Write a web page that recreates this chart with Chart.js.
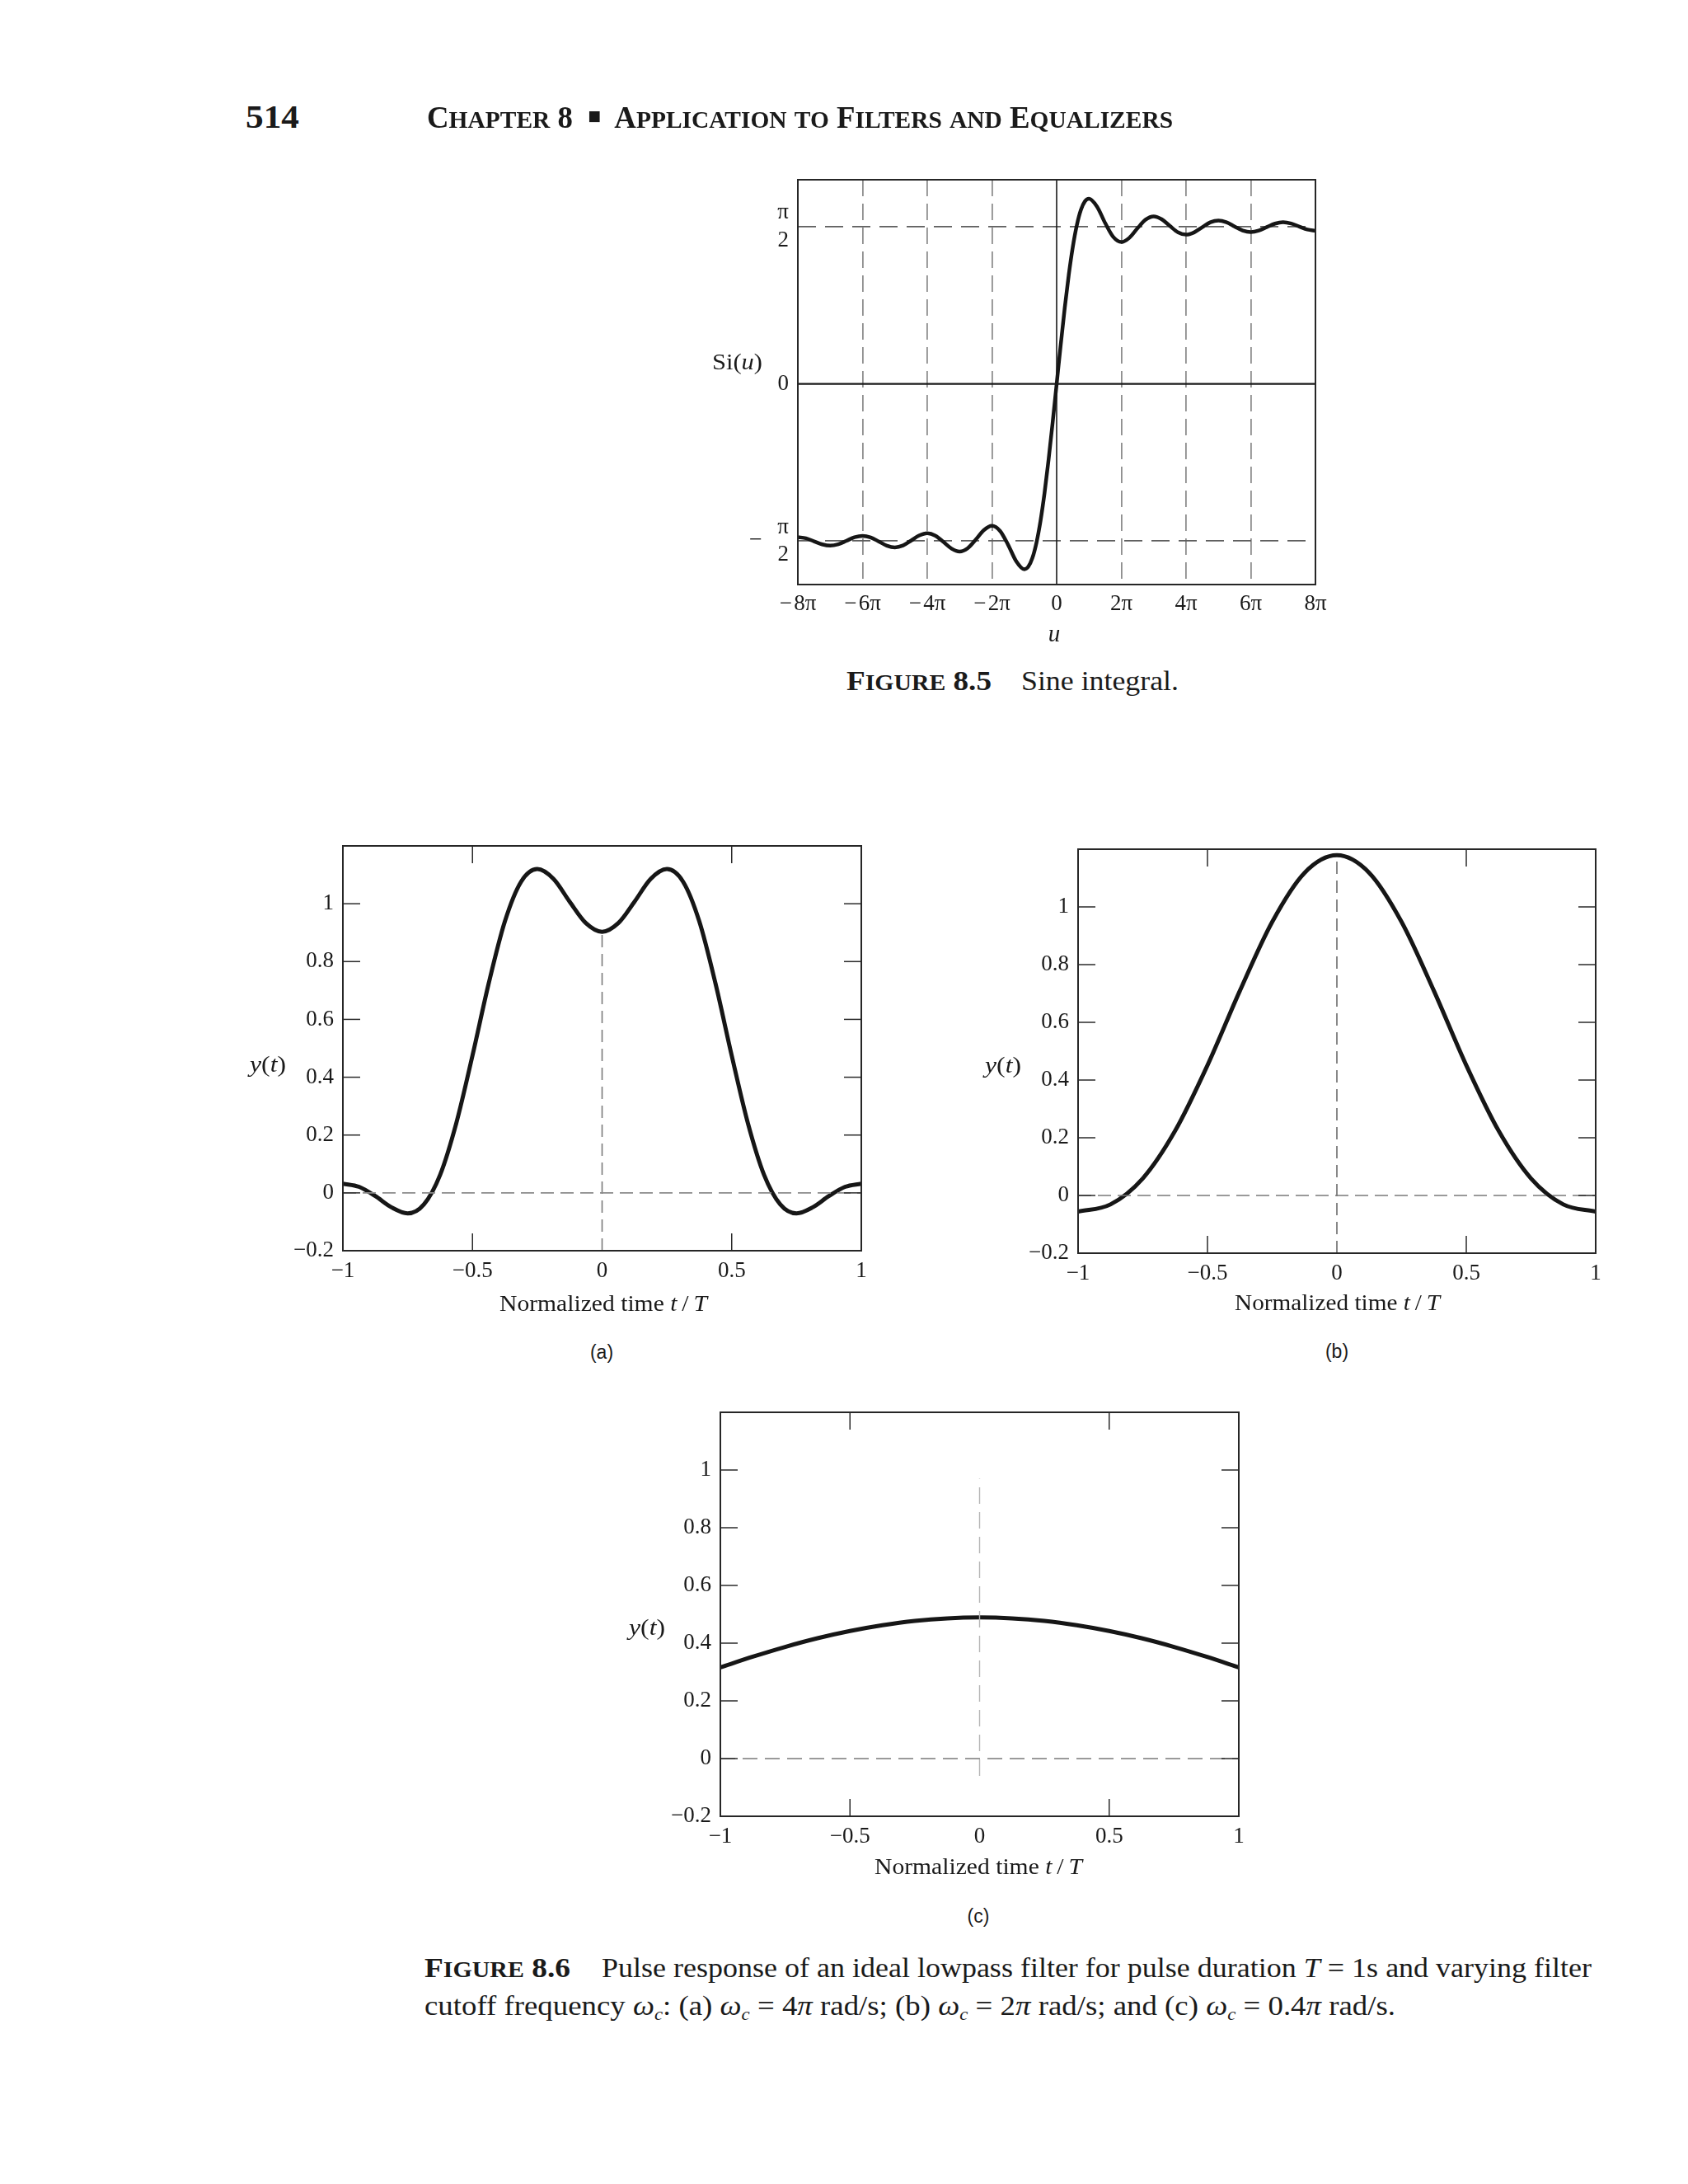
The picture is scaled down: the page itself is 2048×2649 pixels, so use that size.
<!DOCTYPE html>
<html><head><meta charset="utf-8"><title>Sine integral and pulse response of an ideal lowpass filter</title>
<script src="https://cdn.jsdelivr.net/npm/chart.js@4.4.1/dist/chart.umd.min.js"></script>
<style>
html,body{margin:0;padding:0;background:#fff}
body{position:relative;width:2048px;height:2649px;overflow:hidden;color:#1a1a1a;font-family:"Liberation Serif","Times New Roman",serif}
.tx{position:absolute;white-space:nowrap;line-height:1;transform-origin:0 50%}
.b{font-weight:bold}
.scl{font-size:0.8em}
.sans{font-family:"Liberation Sans",Arial,sans-serif}
.sq{font-family:"DejaVu Sans",sans-serif;font-size:0.45em;position:relative;top:-0.55em}
sub{font-size:0.62em;vertical-align:-0.28em;line-height:0}
canvas{position:absolute}
</style></head><body>
<script>
// ---------------- DATA ----------------
// Figure 8.5: sine integral, u expressed in multiples of pi
const siU = [-8,-7.75,-7.5,-7.25,-7,-6.75,-6.5,-6.25,-6,-5.75,-5.5,-5.25,-5,-4.75,-4.5,-4.25,-4,-3.75,-3.5,-3.25,-3,-2.75,-2.5,-2.25,-2,-1.75,-1.5,-1.25,-1,-0.875,-0.75,-0.625,-0.5,-0.375,-0.25,-0.125,0,0.125,0.25,0.375,0.5,0.625,0.75,0.875,1,1.25,1.5,1.75,2,2.25,2.5,2.75,3,3.25,3.5,3.75,4,4.25,4.5,4.75,5,5.25,5.5,5.75,6,6.25,6.5,6.75,7,7.25,7.5,7.75,8];
const siVal = [-1.531,-1.543,-1.573,-1.603,-1.616,-1.602,-1.568,-1.533,-1.518,-1.534,-1.574,-1.616,-1.634,-1.615,-1.566,-1.515,-1.492,-1.516,-1.579,-1.645,-1.675,-1.642,-1.556,-1.461,-1.418,-1.469,-1.608,-1.772,-1.852,-1.826,-1.740,-1.588,-1.371,-1.091,-0.759,-0.389,0,0.389,0.759,1.091,1.371,1.588,1.740,1.826,1.852,1.772,1.608,1.469,1.418,1.461,1.556,1.642,1.675,1.645,1.579,1.516,1.492,1.515,1.566,1.615,1.634,1.616,1.574,1.534,1.518,1.533,1.568,1.602,1.616,1.603,1.573,1.543,1.531];
const siXTicks = [-8,-6,-4,-2,0,2,4,6,8];
const siXLabels = ['−\u200A8π','−\u200A6π','−\u200A4π','−\u200A2π','0','2π','4π','6π','8π'];
const siYTicks = [-1.5708, 0, 1.5708];
const siYLabels = [['π','2'], '0', ['π','2']];
const siAxisX = [-8, 8];
const siAxisY = [-2.005, 2.041];

// Figure 8.6 (a)
const tA = [-1,-0.9375,-0.875,-0.8125,-0.75,-0.6875,-0.625,-0.5625,-0.5,-0.4375,-0.375,-0.3125,-0.25,-0.1875,-0.125,-0.0625,0,0.0625,0.125,0.1875,0.25,0.3125,0.375,0.4375,0.5,0.5625,0.625,0.6875,0.75,0.8125,0.875,0.9375,1];
const yA = [0.032,0.021,-0.011,-0.050,-0.071,-0.040,0.062,0.241,0.475,0.724,0.939,1.076,1.120,1.086,1.007,0.933,0.903,0.933,1.007,1.086,1.120,1.076,0.939,0.724,0.475,0.241,0.062,-0.040,-0.071,-0.050,-0.011,0.021,0.032];
// Figure 8.6 (b)
const tB = [-1,-0.875,-0.75,-0.625,-0.5,-0.375,-0.25,-0.125,0,0.125,0.25,0.375,0.5,0.625,0.75,0.875,1];
const yB = [-0.056,-0.031,0.059,0.224,0.451,0.709,0.948,1.118,1.179,1.118,0.948,0.709,0.451,0.224,0.059,-0.031,-0.056];
// Figure 8.6 (c)
const tC = [-1,-0.875,-0.75,-0.625,-0.5,-0.375,-0.25,-0.125,0,0.125,0.25,0.375,0.5,0.625,0.75,0.875,1];
const yC = [0.316,0.353,0.387,0.417,0.442,0.462,0.477,0.486,0.489,0.486,0.477,0.462,0.442,0.417,0.387,0.353,0.316];

const tTicks = [-1,-0.5,0,0.5,1];
const tLabels = ['−1','−0.5','0','0.5','1'];
const yTicks = [-0.2,0,0.2,0.4,0.6,0.8,1];
const yLabels = ['−0.2','0','0.2','0.4','0.6','0.8','1'];
const zeroX = [-1, 1];
const zeroY = [0, 0];
const axisT = [0, 0];
const vLineA = [-0.2, 0.903];
const vLineB = [-0.2, 1.17];
const vLineC = [-0.06, 0.97];

// ---------------- CHARTS ----------------
Chart.defaults.font.family = '"Liberation Serif","Times New Roman",serif';
Chart.defaults.color = '#1a1a1a';

const frameTicks = {
  id: 'frameTicks',
  afterDatasetsDraw(chart, args, o) {
    const {ctx, chartArea: a, scales: {x, y}} = chart;
    const ln = (x1, y1, x2, y2) => { ctx.beginPath(); ctx.moveTo(x1, y1); ctx.lineTo(x2, y2); ctx.stroke(); };
    ctx.save();
    if (o.showTicks) {
      ctx.strokeStyle = '#2a2a2a'; ctx.lineWidth = 1.5;
      x.ticks.forEach(t => {
        if (t.value === 0) return;
        const p = x.getPixelForValue(t.value);
        ln(p, a.bottom, p, a.bottom - o.len); ln(p, a.top, p, a.top + o.len);
      });
      y.ticks.forEach(t => {
        const p = y.getPixelForValue(t.value);
        ln(a.left, p, a.left + o.len, p); ln(a.right, p, a.right - o.len, p);
      });
    }
    ctx.strokeStyle = '#262626'; ctx.lineWidth = o.frame;
    ctx.strokeRect(a.left, a.top, a.right - a.left, a.bottom - a.top);
    ctx.restore();
  }
};

function pts(xs, ys) { return xs.map((v, i) => ({x: v, y: ys[i]})); }
function curve(xs, ys, w) {
  return {data: pts(xs, ys), borderColor: '#161616', borderWidth: w, pointRadius: 0, fill: false,
          cubicInterpolationMode: 'monotone', borderJoinStyle: 'round', borderCapStyle: 'butt'};
}
function rule(xs, ys, color, w, dash) {
  return {data: pts(xs, ys), borderColor: color, borderWidth: w, pointRadius: 0, fill: false, borderDash: dash || []};
}

function panel(box, m, datasets, sx, sy, plug) {
  const W = box.R - box.L + m.l + m.r, H = box.B - box.T + m.t + m.b;
  const cv = document.createElement('canvas');
  cv.width = W; cv.height = H;
  cv.style.left = (box.L - m.l) + 'px'; cv.style.top = (box.T - m.t) + 'px';
  cv.style.width = W + 'px'; cv.style.height = H + 'px';
  document.body.appendChild(cv);
  sx.afterFit = s => { s.height = m.b; };
  sy.afterFit = s => { s.width = m.l; };
  return new Chart(cv, {
    type: 'line',
    data: {datasets},
    options: {
      responsive: false, animation: false, events: [],
      layout: {padding: {left: 0, top: m.t, right: m.r, bottom: 0}},
      plugins: {legend: {display: false}, tooltip: {enabled: false}, frameTicks: plug},
      scales: {x: sx, y: sy}
    },
    plugins: [frameTicks]
  });
}

// Figure 8.5
panel({L: 968, T: 218, R: 1596, B: 709}, {l: 120, t: 70, r: 40, b: 50},
  [
    rule(siAxisX, [0, 0], '#1a1a1a', 2.2),
    rule([0, 0], siAxisY, '#1a1a1a', 1.6),
    curve(siU, siVal, 4.5)
  ],
  {type: 'linear', min: -8, max: 8,
   afterBuildTicks: s => { s.ticks = siXTicks.map(v => ({value: v})); },
   ticks: {autoSkip: false, maxRotation: 0, padding: 10, font: {size: 27, lineHeight: 1},
           callback: v => siXLabels[siXTicks.indexOf(v)]},
   grid: {display: true, drawTicks: false, lineWidth: 1.8,
          color: c => (c.tick && Math.abs(c.tick.value) > 0.5 && Math.abs(c.tick.value) < 7.5) ? '#8e8e8e' : 'rgba(0,0,0,0)'},
   border: {display: false, dash: [20, 9]}},
  {type: 'linear', min: siAxisY[0], max: siAxisY[1],
   afterBuildTicks: s => { s.ticks = siYTicks.map(v => ({value: v})); },
   ticks: {autoSkip: false, padding: 11, font: {size: 27, lineHeight: 1.24},
           callback: (v, i) => siYLabels[i]},
   grid: {display: true, drawTicks: false, lineWidth: 1.8,
          color: c => (c.tick && Math.abs(c.tick.value) > 1) ? '#5e5e5e' : 'rgba(0,0,0,0)'},
   border: {display: false, dash: [22, 11]}},
  {showTicks: false, len: 0, frame: 2}
);

function tScales() {
  return [
    {type: 'linear', min: -1, max: 1,
     afterBuildTicks: s => { s.ticks = tTicks.map(v => ({value: v})); },
     ticks: {autoSkip: false, maxRotation: 0, padding: 11, font: {size: 27, lineHeight: 1},
             callback: v => tLabels[tTicks.indexOf(v)]},
     grid: {display: false, drawTicks: false}, border: {display: false}},
    {type: 'linear', min: -0.2, max: 1.2,
     afterBuildTicks: s => { s.ticks = yTicks.map(v => ({value: v})); },
     ticks: {autoSkip: false, padding: 11, font: {size: 27, lineHeight: 1},
             callback: (v, i) => yLabels[i]},
     grid: {display: false, drawTicks: false}, border: {display: false}}
  ];
}
const M86 = {l: 90, t: 45, r: 30, b: 50};
const TP = {showTicks: true, len: 21, frame: 2};

let s = tScales();
panel({L: 416, T: 1026, R: 1045, B: 1517}, M86,
  [rule(zeroX, zeroY, '#8a8a8a', 1.6, [16, 8]), rule(axisT, vLineA, '#7a7a7a', 1.6, [15, 8]), curve(tA, yA, 5)],
  s[0], s[1], TP);
s = tScales();
panel({L: 1308, T: 1030, R: 1936, B: 1520}, M86,
  [rule(zeroX, zeroY, '#7a7a7a', 1.6, [16, 8]), rule(axisT, vLineB, '#6a6a6a', 1.6, [15, 8]), curve(tB, yB, 5)],
  s[0], s[1], TP);
s = tScales();
panel({L: 874, T: 1713, R: 1503, B: 2203}, M86,
  [rule(zeroX, zeroY, '#7a7a7a', 1.6, [18, 9]), rule(axisT, vLineC, '#b5b5b5', 1.4, [20, 10]), curve(tC, yC, 5)],
  s[0], s[1], TP);

// ---------------- TEXT ----------------
function sc(str) { return str.replace(/[a-z]+/g, m => '<span class="scl">' + m.toUpperCase() + '</span>'); }
const NT = 'Normalized time <i>t</i>&thinsp;/&thinsp;<i>T</i>';
const YT = '<i>y</i>(<i>t</i>)';
const texts = [
  {h: '514', x: 298, base: 155, s: 39, c: 'b', w: 65},
  {h: sc('Chapter 8') + ' &nbsp;<span class="sq">■</span>&nbsp; ' + sc('Application to Filters and Equalizers'), x: 518, base: 155, s: 38, c: 'b', w: 905},
  {h: 'Si(<i>u</i>)', x: 894, base: 448, s: 28, a: 'c', w: 61},
  {h: '−', x: 917, base: 663, s: 28, a: 'c'},
  {h: '<i>u</i>', x: 1279, base: 778, s: 29, a: 'c'},
  {h: sc('Figure 8.5'), x: 1027, base: 837, s: 34, c: 'b', w: 176},
  {h: 'Sine integral.', x: 1239, base: 837, s: 34, w: 191},
  {h: YT, x: 325, base: 1300, s: 28, a: 'c', w: 44},
  {h: YT, x: 1217, base: 1301, s: 28, a: 'c', w: 44},
  {h: YT, x: 785, base: 1983, s: 28, a: 'c', w: 44},
  {h: NT, x: 732, base: 1590, s: 28, a: 'c', w: 252},
  {h: NT, x: 1622, base: 1589, s: 28, a: 'c', w: 249},
  {h: NT, x: 1187, base: 2273, s: 28, a: 'c', w: 252},
  {h: '(a)', x: 730, base: 1648, s: 23, a: 'c', c: 'sans'},
  {h: '(b)', x: 1622, base: 1647, s: 23, a: 'c', c: 'sans'},
  {h: '(c)', x: 1187, base: 2332, s: 23, a: 'c', c: 'sans'},
  {h: sc('Figure 8.6'), x: 515, base: 2398, s: 34, c: 'b', w: 177},
  {h: 'Pulse response of an ideal lowpass filter for pulse duration <i>T</i> = 1s and varying filter', x: 730, base: 2398, s: 34, w: 1201},
  {h: 'cutoff frequency <i>ω<sub>c</sub></i>: (a) <i>ω<sub>c</sub></i> = 4<i>π</i> rad/s; (b) <i>ω<sub>c</sub></i> = 2<i>π</i> rad/s; and (c) <i>ω<sub>c</sub></i> = 0.4<i>π</i> rad/s.', x: 515, base: 2444, s: 34, w: 1178}
];
texts.forEach(t => {
  const d = document.createElement('div');
  d.className = 'tx ' + (t.c || '');
  d.innerHTML = t.h;
  d.style.fontSize = t.s + 'px';
  const asc = (t.c === 'sans') ? 0.8465 : 0.8375;
  d.style.top = (t.base - asc * t.s) + 'px';
  document.body.appendChild(d);
  const nat = d.getBoundingClientRect().width;
  const w = t.w || nat;
  const left = t.a === 'c' ? t.x - w / 2 : t.x;
  d.style.left = left + 'px';
  if (t.w) d.style.transform = 'scaleX(' + (t.w / nat).toFixed(4) + ')';
});
</script>
</body></html>
